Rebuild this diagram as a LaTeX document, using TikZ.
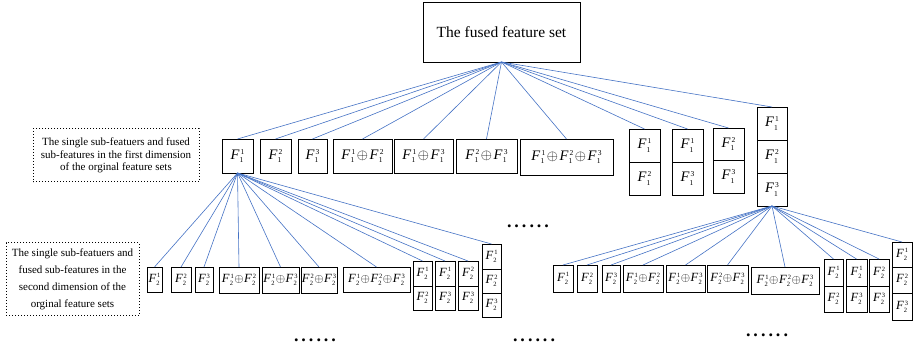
\documentclass[tikz,border=0pt]{standalone}
\usepackage{fontspec}
\setmainfont{Liberation Serif}
\definecolor{conblue}{RGB}{68,114,196}
\tikzset{
  bx/.style={draw,line width=0.9pt,inner sep=0pt,outer sep=0pt,anchor=center},
  dbox/.style={draw,dotted,line width=1pt,inner sep=0pt,anchor=center,align=center},
  con/.style={draw=conblue,line width=0.6pt},
  dotrow/.style={inner sep=0pt,font=\fontsize{18}{18}\selectfont\bfseries}
}
\newcommand{\rn}[6]{\node[bx,minimum width={(#4)-(#2)},minimum height={(#5)-(#3)}] (#1) at ({((#2)+(#4))/2},{((#3)+(#5))/2}) {#6};}
\newcommand{\Fa}[2]{\textit{F}\kern0.2pt\rlap{\raisebox{-3.4pt}{\fontsize{7.5}{7.5}\selectfont #1}}\kern1pt\raisebox{5.2pt}{\fontsize{7.5}{7.5}\selectfont #2}}
\newcommand{\Fb}[2]{\textit{F}\kern0.2pt\rlap{\raisebox{-3pt}{\fontsize{6.5}{6.5}\selectfont #1}}\kern0.8pt\raisebox{4.3pt}{\fontsize{6.5}{6.5}\selectfont #2}}
\newcommand{\op}{\kern1.5pt$\oplus$\kern1.5pt}
\newcommand{\opb}{\kern0.5pt$\oplus$\kern0.5pt}
\newcommand{\sixdots}{.\kern3pt.\kern3pt.\kern3pt.\kern3pt.\kern3pt.}
\begin{document}
\begin{tikzpicture}[x=1pt,y=-1pt]
\useasboundingbox (0,0) rectangle (913,352);
% top
\rn{top}{423}{2}{580}{62}{\fontsize{15.5}{18}\selectfont The fused feature set}
% level 1
\begin{scope}[every node/.append style={font=\fontsize{14.5}{15}\selectfont}]
\rn{A1}{222}{139}{253}{173}{\Fa{1}{1}}
\rn{A2}{260}{139}{291}{173}{\Fa{1}{2}}
\rn{A3}{298}{139}{327}{173}{\Fa{1}{3}}
\rn{A4}{333}{139}{392}{173}{\Fa{1}{1}\op\Fa{1}{2}}
\rn{A5}{394}{139}{453}{173}{\Fa{1}{1}\op\Fa{1}{3}}
\rn{A6}{456}{139}{517}{173}{\Fa{1}{2}\op\Fa{1}{3}}
\rn{A7}{520}{139}{613}{175}{\Fa{1}{1}\op\Fa{1}{2}\op\Fa{1}{3}}
\rn{P1a}{629}{129}{660}{162}{\Fa{1}{1}}
\rn{P1b}{629}{162}{660}{195}{\Fa{1}{2}}
\rn{P2a}{672}{129}{703}{162}{\Fa{1}{1}}
\rn{P2b}{672}{162}{703}{195}{\Fa{1}{3}}
\rn{P3a}{713}{128}{744}{160}{\Fa{1}{2}}
\rn{P3b}{713}{160}{744}{193}{\Fa{1}{3}}
\rn{Ta}{757}{107}{787}{140}{\Fa{1}{1}}
\rn{Tb}{757}{140}{787}{173}{\Fa{1}{2}}
\rn{Tc}{757}{173}{787}{206}{\Fa{1}{3}}
\end{scope}
% level 2
\begin{scope}[every node/.append style={font=\fontsize{12.5}{13}\selectfont}]
\rn{B1}{147}{267}{162}{292}{\Fb{2}{1}}
\rn{B2}{171}{267}{191}{292}{\Fb{2}{2}}
\rn{B3}{195}{267}{213}{292}{\Fb{2}{3}}
\rn{B4}{219}{267}{259}{293}{\Fb{2}{1}\opb\Fb{2}{2}}
\rn{B5}{262}{267}{299}{293}{\Fb{2}{1}\opb\Fb{2}{3}}
\rn{B6}{301}{267}{337}{293}{\Fb{2}{2}\opb\Fb{2}{3}}
\rn{B7}{343}{267}{410}{292}{\Fb{2}{1}\opb\Fb{2}{2}\opb\Fb{2}{3}}
\rn{BP1a}{413}{261}{432}{286}{\Fb{2}{1}}
\rn{BP1b}{413}{286}{432}{310}{\Fb{2}{2}}
\rn{BP2a}{435}{261}{455}{286}{\Fb{2}{1}}
\rn{BP2b}{435}{286}{455}{310}{\Fb{2}{3}}
\rn{BP3a}{458}{261}{478}{286}{\Fb{2}{2}}
\rn{BP3b}{458}{286}{478}{310}{\Fb{2}{3}}
\rn{BTa}{482}{244}{501}{269}{\Fb{2}{1}}
\rn{BTb}{482}{269}{501}{293}{\Fb{2}{2}}
\rn{BTc}{482}{293}{501}{317}{\Fb{2}{3}}
\rn{C1}{553}{265}{573}{292}{\Fb{2}{1}}
\rn{C2}{577}{265}{597}{292}{\Fb{2}{2}}
\rn{C3}{602}{265}{620}{292}{\Fb{2}{3}}
\rn{C4}{623}{265}{663}{292}{\Fb{2}{1}\opb\Fb{2}{2}}
\rn{C5}{666}{265}{705}{292}{\Fb{2}{1}\opb\Fb{2}{3}}
\rn{C6}{707}{265}{748}{292}{\Fb{2}{2}\opb\Fb{2}{3}}
\rn{C7}{751}{267}{819}{294}{\Fb{2}{1}\opb\Fb{2}{2}\opb\Fb{2}{3}}
\rn{CP1a}{824}{259}{843}{286}{\Fb{2}{1}}
\rn{CP1b}{824}{286}{843}{312}{\Fb{2}{2}}
\rn{CP2a}{846}{259}{867}{286}{\Fb{2}{1}}
\rn{CP2b}{846}{286}{867}{312}{\Fb{2}{3}}
\rn{CP3a}{869}{259}{889}{286}{\Fb{2}{2}}
\rn{CP3b}{869}{286}{889}{312}{\Fb{2}{3}}
\rn{CTa}{892}{242}{912}{267}{\Fb{2}{1}}
\rn{CTb}{892}{267}{912}{293}{\Fb{2}{2}}
\rn{CTc}{892}{293}{912}{320}{\Fb{2}{3}}
\end{scope}
% connectors
\foreach \n in {A1,A2,A3,A4,A5,A6,A7,P1a,P2a,P3a,Ta}
  \draw[con] (top.south) -- (\n.north);
\foreach \n in {B1,B2,B3,B4,B5,B6,B7,BP1a,BP2a,BP3a,BTa}
  \draw[con] (A1.south) -- (\n.north);
\foreach \n in {C1,C2,C3,C4,C5,C6,C7,CP1a,CP2a,CP3a,CTa}
  \draw[con] (Tc.south) -- (\n.north);
% dotted label boxes
\node[dbox,minimum width=166,minimum height=53,font=\fontsize{11}{12.5}\selectfont] (D1) at (116,155.5)
  {The single sub-featuers and fused\\sub-features in the first dimension\\of the orginal feature sets};
\node[dbox,minimum width=133,minimum height=73,font=\fontsize{11}{17}\selectfont] (D2) at (72.5,279.5)
  {The single sub-featuers and\\fused sub-features in the\\second dimension of the\\orginal feature sets};
% ellipsis dots
\node[dotrow] (d1) at (528,226) {\sixdots};
\node[dotrow] (d2) at (315,340) {\sixdots};
\node[dotrow] (d3) at (534,340) {\sixdots};
\node[dotrow] (d4) at (767,335) {\sixdots};
\end{tikzpicture}
\end{document}
